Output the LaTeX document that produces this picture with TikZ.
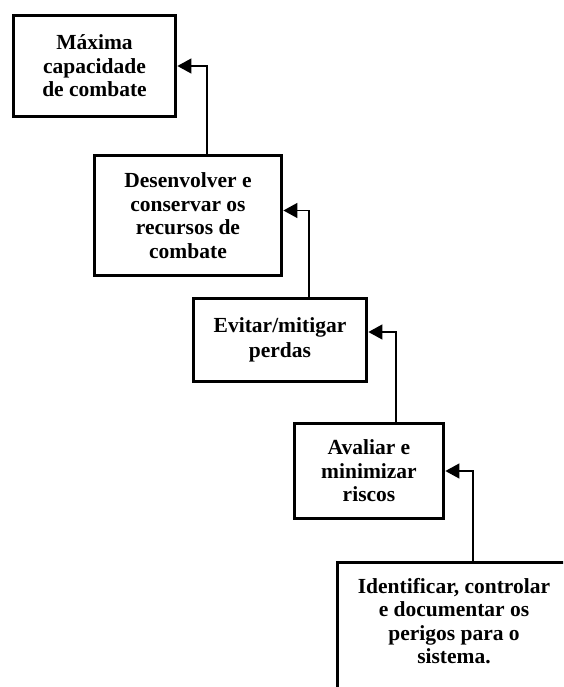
\documentclass[tikz,border=0pt]{standalone}
\usepackage{fontspec}
\setmainfont{Liberation Serif}
\usetikzlibrary{arrows.meta}
\begin{document}
\begin{tikzpicture}[x=1pt,y=1pt,
  box/.style={draw=black, line width=3.8pt, fill=white, align=center, inner sep=0pt,
    font=\bfseries\fontsize{21.5}{23.5}\selectfont},
  txt/.style={align=center, inner sep=0pt, font=\bfseries\fontsize{21.5}{23.5}\selectfont},
  conn/.style={draw=black, line width=1.4pt, -{Triangle[length=14pt,width=15pt]}}]
\useasboundingbox (0,0) rectangle (563,-687);
\clip (0,0) rectangle (563,-687);
\fill[white] (0,0) rectangle (563,-687);
\node[box, minimum width=162, minimum height=101] (B1) at (94.5,-66) {Máxima\\capacidade\\de combate};
\node[box, minimum width=187, minimum height=120] (B2) at (188,-215.5) {Desenvolver e\\conservar os\\recursos de\\combate};
\node[box, minimum width=173, minimum height=83] (B3) at (280,-340) {\raisebox{4pt}{\shortstack{Evitar/mitigar\\[2pt]perdas}}};
\node[box, minimum width=149, minimum height=95] (B4) at (369,-471) {Avaliar e\\minimizar\\riscos};
\node[box, minimum width=240, minimum height=150, anchor=north west] (B5) at (335.5,-560.5) {};
\node[txt] (T5) at (454,-621) {Identificar, controlar\\e documentar os\\perigos para o\\sistema.};
\draw[conn] ([xshift=19pt]B2.north) |- (B1.east);
\draw[conn] ([xshift=29pt]B3.north) |- ([yshift=5pt]B2.east);
\draw[conn] ([xshift=27pt]B4.north) |- ([yshift=8pt]B3.east);
\draw[conn] (B5.north -| 473,0) |- (B4.east);
\end{tikzpicture}
\end{document}
